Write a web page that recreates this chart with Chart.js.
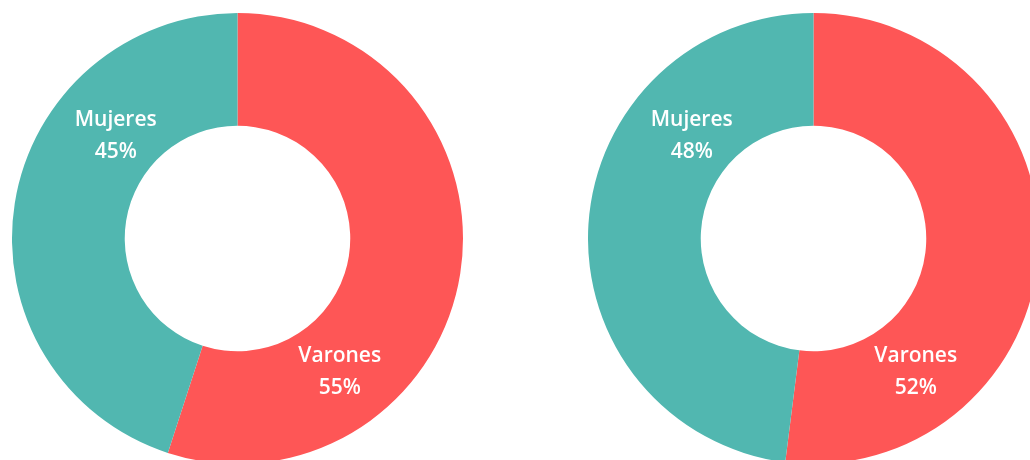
<!DOCTYPE html>
<html>
<head>
<meta charset="utf-8">
<script src="https://cdn.jsdelivr.net/npm/chart.js@4/dist/chart.umd.min.js"></script>
<style>
  html, body { margin: 0; padding: 0; overflow: hidden; background: #ffffff; width: 1030px; height: 460px; }
  .box { position: absolute; top: 13px; width: 451px; height: 451px; }
  #box1 { left: 12px; }
  #box2 { left: 588px; }
</style>
</head>
<body>
<div class="box" id="box1"><canvas id="chart1"></canvas></div>
<div class="box" id="box2"><canvas id="chart2"></canvas></div>
<script>
const categorias = ['Varones', 'Mujeres'];
const valores1 = [55, 45];
const valores2 = [52, 48];
const colores = ['#fe5656', '#51b7b0'];

// etiqueta de dos lineas (nombre + porcentaje) dentro de cada porcion
// angulo en grados desde arriba, sentido horario; radio como fraccion del anillo
const posEtiqueta = [
  { ang: 142.5, frac: 0.49 },
  { ang: 310, frac: 0.41 },
];

const etiquetas = {
  id: 'etiquetas',
  afterDatasetsDraw(chart) {
    const ctx = chart.ctx;
    const meta = chart.getDatasetMeta(0);
    const datos = chart.data.datasets[0].data;
    const total = datos.reduce((a, b) => a + b, 0);
    ctx.save();
    ctx.fillStyle = '#ffffff';
    ctx.font = '600 21px "Open Sans"';
    ctx.textAlign = 'center';
    ctx.textBaseline = 'middle';
    meta.data.forEach((arc, i) => {
      const p = arc.getProps(['x', 'y', 'innerRadius', 'outerRadius'], true);
      const ang = (posEtiqueta[i].ang - 90) * Math.PI / 180;
      const r = p.innerRadius + (p.outerRadius - p.innerRadius) * posEtiqueta[i].frac;
      const x = p.x + Math.cos(ang) * r;
      const y = p.y + Math.sin(ang) * r;
      const pct = Math.round(datos[i] / total * 100) + '%';
      ctx.fillText(chart.data.labels[i], x, y - 16);
      ctx.fillText(pct, x, y + 16);
    });
    ctx.restore();
  }
};

function dona(id, valores) {
  const ctx = document.getElementById(id).getContext('2d');
  return new Chart(ctx, {
    type: 'doughnut',
    data: {
      labels: categorias,
      datasets: [{
        data: valores,
        backgroundColor: colores,
        borderWidth: 0,
      }],
    },
    options: {
      responsive: true,
      maintainAspectRatio: false,
      animation: false,
      cutout: '50%',
      layout: { padding: 0 },
      plugins: {
        legend: { display: false },
        tooltip: { enabled: false },
      },
    },
    plugins: [etiquetas],
  });
}

dona('chart1', valores1);
dona('chart2', valores2);
</script>
</body>
</html>
